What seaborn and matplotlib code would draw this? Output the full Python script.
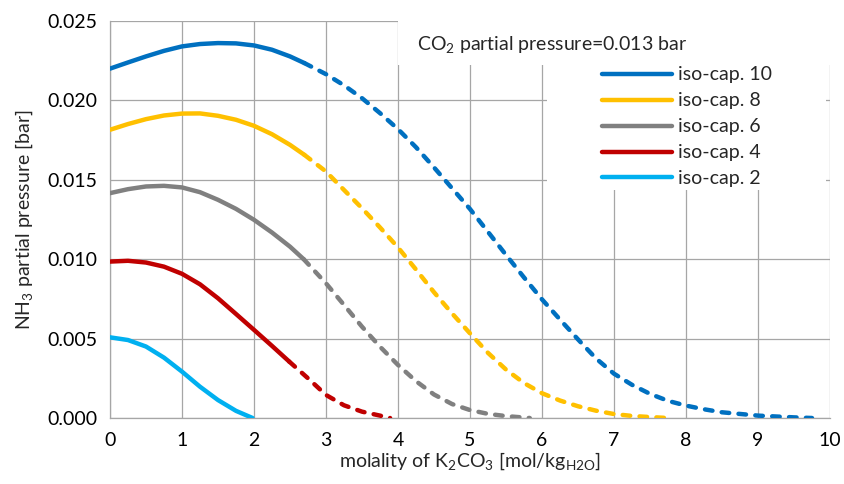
import matplotlib
matplotlib.use("Agg")
import matplotlib.pyplot as plt
import seaborn as sns
import pandas as pd
from matplotlib.patches import Rectangle
from matplotlib.lines import Line2D

# ---- data ----
labels = ["iso-cap. 10", "iso-cap. 8", "iso-cap. 6", "iso-cap. 4", "iso-cap. 2"]
colors = ["#0070C0", "#FFC000", "#808080", "#C00000", "#00B0F0"]

m_cap10 = [0, 0.25, 0.5, 0.75, 1, 1.25, 1.5, 1.75, 2, 2.25, 2.5, 2.7,
           3, 3.25, 3.5, 3.75, 4, 4.25, 4.5, 4.75, 5, 5.25, 5.5, 5.75,
           6, 6.25, 6.5, 6.75, 7, 7.25, 7.5, 7.75, 8, 8.25, 8.5, 9, 9.5, 9.75]
p_cap10 = [0.0220, 0.02239, 0.02277, 0.02312, 0.0234, 0.02355, 0.02361, 0.02359,
           0.02346, 0.02319, 0.02277, 0.02235,
           0.02165, 0.02095, 0.02014, 0.0192, 0.01819, 0.01705, 0.01578, 0.01447,
           0.01316, 0.01172, 0.01027, 0.00885,
           0.00747, 0.0062, 0.00495, 0.00375, 0.00279, 0.00209, 0.00152, 0.00108,
           0.00078, 0.00055, 0.00036, 0.00015, 0.00004, 0.0]
solid_end_cap10 = 2.7

m_cap8 = [0, 0.25, 0.5, 0.75, 1, 1.25, 1.5, 1.75, 2, 2.25, 2.5, 2.7,
          3, 3.25, 3.5, 3.75, 4, 4.25, 4.5, 4.75, 5, 5.25, 5.5, 5.75,
          6, 6.25, 6.5, 6.75, 7, 7.25, 7.5, 7.75]
p_cap8 = [0.01815, 0.01851, 0.01882, 0.01905, 0.01917, 0.01918, 0.01903, 0.01878,
          0.0184, 0.01787, 0.0172, 0.01657,
          0.01552, 0.01436, 0.01321, 0.01200, 0.01074, 0.00935, 0.00792, 0.00659,
          0.00533, 0.00410, 0.00305, 0.00220,
          0.00156, 0.00110, 0.00074, 0.00046, 0.00025, 0.00013, 0.00006, 0.0]
solid_end_cap8 = 2.7

m_cap6 = [0, 0.25, 0.5, 0.75, 1, 1.25, 1.5, 1.75, 2, 2.25, 2.5, 2.69,
          3, 3.25, 3.5, 3.75, 4, 4.25, 4.5, 4.75, 5, 5.25, 5.5, 5.83]
p_cap6 = [0.01416, 0.01441, 0.01458, 0.01462, 0.01452, 0.01422, 0.01374, 0.01317,
          0.01248, 0.01168, 0.01079, 0.0100,
          0.00848, 0.00712, 0.00575, 0.00449, 0.00334, 0.00232, 0.00148, 0.00088,
          0.0005, 0.00026, 0.00012, 0.0]
solid_end_cap6 = 2.69

m_cap4 = [0, 0.25, 0.5, 0.75, 1, 1.25, 1.5, 1.75, 2, 2.25, 2.49,
          2.75, 3, 3.25, 3.5, 3.75, 3.89]
p_cap4 = [0.00985, 0.00990, 0.00979, 0.00953, 0.00908, 0.00842, 0.00754, 0.00655,
          0.00555, 0.00454, 0.00355,
          0.0025, 0.00145, 0.00080, 0.0004, 0.00015, 0.0]
solid_end_cap4 = 2.49

m_cap2 = [0, 0.25, 0.5, 0.75, 1, 1.25, 1.5, 1.75, 1.98]
p_cap2 = [0.00508, 0.00491, 0.00450, 0.00380, 0.00292, 0.00197, 0.00113, 0.00045, 0.0]
solid_end_cap2 = 1.98

series = [
    (m_cap10, p_cap10, solid_end_cap10),
    (m_cap8, p_cap8, solid_end_cap8),
    (m_cap6, p_cap6, solid_end_cap6),
    (m_cap4, p_cap4, solid_end_cap4),
    (m_cap2, p_cap2, solid_end_cap2),
]

x_ticks = list(range(0, 11))
y_ticks = [0.000, 0.005, 0.010, 0.015, 0.020, 0.025]

# ---- style ----
sns.set_style("white")
plt.rcParams["font.family"] = ["Lato", "DejaVu Sans"]
plt.rcParams["mathtext.fontset"] = "custom"
plt.rcParams["mathtext.rm"] = "Lato"
plt.rcParams["mathtext.it"] = "Lato"
plt.rcParams["mathtext.default"] = "regular"

FS = 14
grid_c = "#A6A6A6"
lw = 3.2
dash = (1.7, 2.1)

fig = plt.figure(figsize=(8.44, 4.84), dpi=100)
ax = fig.add_axes([110 / 844, 1 - 418 / 484, 720 / 844, 397 / 484])

for (lab, col, (m, p, se)) in zip(labels, colors, series):
    df = pd.DataFrame({"m": m, "p": p})
    solid = df[df["m"] <= se + 1e-9]
    dashed = df[df["m"] >= se - 1e-9]
    sns.lineplot(data=solid, x="m", y="p", ax=ax, color=col, linewidth=lw,
                 sort=False, solid_capstyle="round", solid_joinstyle="round", zorder=3)
    if len(dashed) > 1:
        sns.lineplot(data=dashed, x="m", y="p", ax=ax, color=col, linewidth=lw,
                     sort=False, linestyle=(0, dash), dash_capstyle="round",
                     dash_joinstyle="round", zorder=3)

ax.set_xlim(0, 10)
ax.set_ylim(0, 0.025)
ax.set_xticks(x_ticks)
ax.set_yticks(y_ticks)
ax.set_xticklabels([str(v) for v in x_ticks], fontsize=FS)
ax.set_yticklabels([f"{v:.3f}" for v in y_ticks], fontsize=FS)
ax.tick_params(axis="both", direction="out", length=6, width=0.9, color=grid_c,
               pad=3, labelcolor="black")
ax.tick_params(axis="x", pad=4)

ax.grid(True, color=grid_c, linewidth=0.9)
ax.set_axisbelow(True)
for s in ["top", "right"]:
    ax.spines[s].set_visible(False)
for s in ["left", "bottom"]:
    ax.spines[s].set_color(grid_c)
    ax.spines[s].set_linewidth(0.9)

ax.set_xlabel(r"molality of K$_2$CO$_3$ [mol/kg$_{H2O}$]", fontsize=FS, labelpad=1)
ax.set_ylabel(r"NH$_3$ partial pressure [bar]", fontsize=FS, labelpad=9)

# white boxes for title and legend (hide gridlines)
ax.add_patch(Rectangle((0.4, 0.889), 0.6, 0.111, transform=ax.transAxes,
                       facecolor="white", edgecolor="none", zorder=1, clip_on=False))
ax.add_patch(Rectangle((0.607, 0.574), 0.387, 0.315, transform=ax.transAxes,
                       facecolor="white", edgecolor="none", zorder=1, clip_on=False))

ax.text(0.6146, 0.942, r"CO$_2$ partial pressure=0.013 bar", transform=ax.transAxes,
        ha="center", va="center", fontsize=FS, zorder=4)

handles = [Line2D([], [], color=c, linewidth=lw, solid_capstyle="round") for c in colors]
leg = ax.legend(handles, labels, loc="upper left", bbox_to_anchor=(0.673, 0.905),
                frameon=False, fontsize=FS, handlelength=3.6, handletextpad=0.3,
                labelspacing=0.46, borderaxespad=0)
leg.set_zorder(5)

fig.savefig("out.png", dpi=100)
